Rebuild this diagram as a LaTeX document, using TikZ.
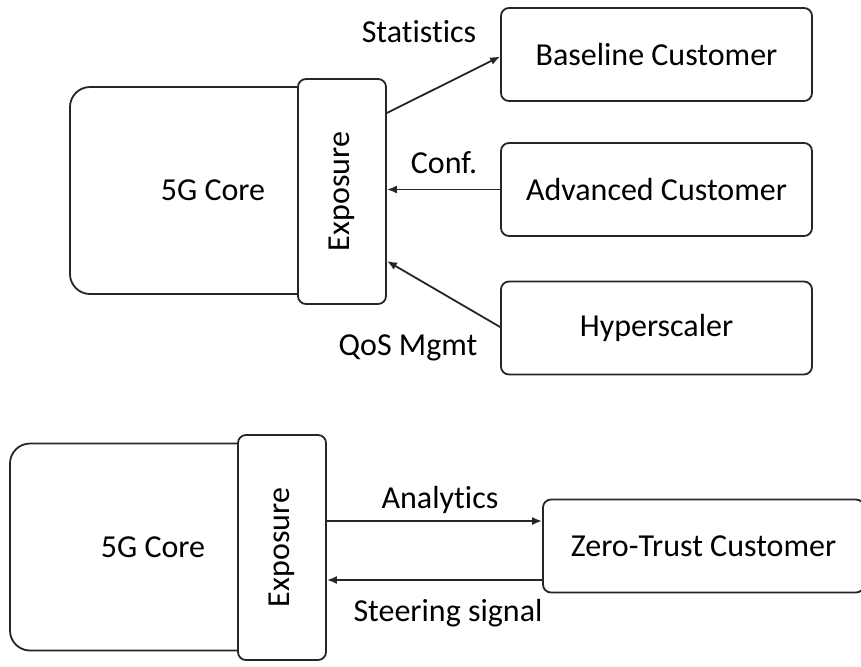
\documentclass[tikz,border=0pt]{standalone}
\usepackage{fontspec}
\setmainfont{Carlito}[Ligatures=NoCommon]
\usetikzlibrary{arrows.meta,calc}
\begin{document}
\begin{tikzpicture}[x=0.5pt,y=-0.5pt,
  every node/.style={font=\fontsize{16}{19}\selectfont, text=black},
  box/.style={draw=black!85, line width=0.9pt, rounded corners=4pt, fill=white, inner sep=0pt},
  corebox/.style={box, rounded corners=10pt, minimum width=143pt, minimum height=103.5pt},
  expbox/.style={box, minimum width=44pt, minimum height=112.5pt},
  custbox/.style={box, minimum width=155.5pt, minimum height=46.5pt},
  conn/.style={draw=black!85, line width=0.9pt, -{Latex[length=5pt,width=4pt]}},
  lbl/.style={inner sep=1pt}]
\useasboundingbox (0,0) rectangle (861,666);
% top
\node[corebox] (coreT) at (213,190.5) {5G Core};
\node[expbox] (expT) at (342,191.5) {\rotatebox{90}{Exposure}};
\node[custbox] (base) at (656.5,54.5) {Baseline Customer};
\node[custbox] (adv) at (656.5,189.5) {Advanced Customer};
\node[custbox] (hyp) at (656.5,328) {Hyperscaler};
\draw[conn] ($(expT.east)+(0,-78.5)$) -- ($(base.west)+(0,2)$);
\draw[conn] (adv.west) -- (adv.west -| expT.east);
\draw[conn] ($(hyp.west)+(0,-1)$) -- ($(expT.east)+(0,69.5)$);
\node[lbl] (lstat) at (419,32) {Statistics};
\node[lbl] (lconf) at (444,163) {Conf.};
\node[lbl] (lqos) at (408,348) {QoS Mgmt};
% bottom
\node[corebox] (coreB) at (153,547) {5G Core};
\node[expbox] (expB) at (282,547.5) {\rotatebox{90}{Exposure}};
\node[custbox, minimum width=160.5pt] (zt) at (703.5,546) {Zero-Trust Customer};
\coordinate (aS) at ($(expB.east)+(0,-26.5)$);
\coordinate (sE) at ($(expB.east)+(0,32.5)$);
\draw[conn] (aS) -- (aS -| zt.west);
\draw[conn] (sE -| zt.west) -- (sE);
\node[lbl] (lana) at (440,500) {Analytics};
\node[lbl] (lsteer) at (448,613) {Steering signal};
\end{tikzpicture}
\end{document}
